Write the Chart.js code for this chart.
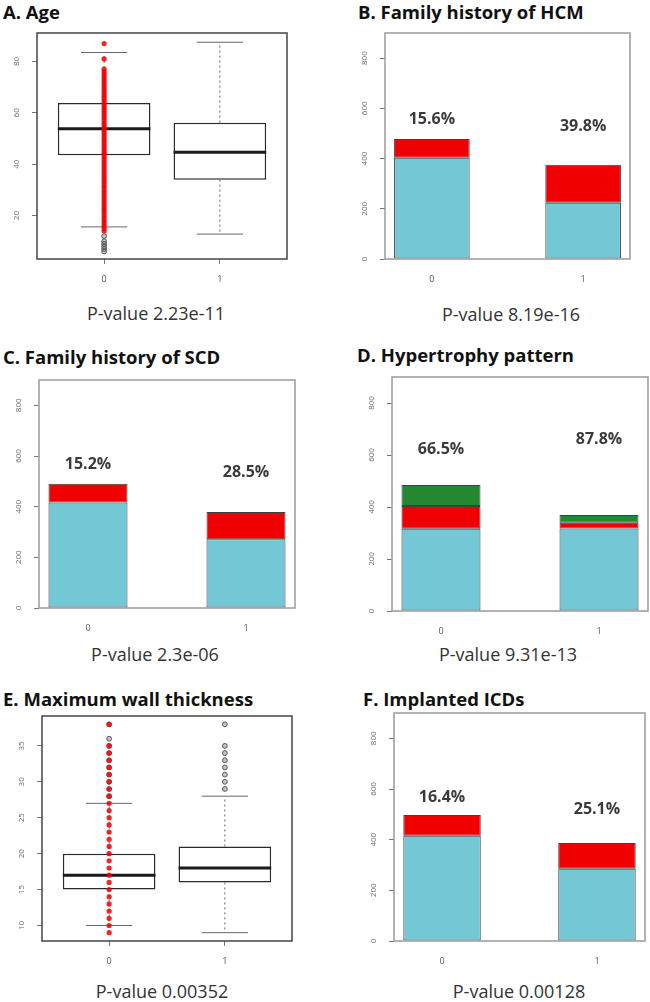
<!DOCTYPE html>
<html>
<head>
<meta charset="utf-8">
<script src="https://cdn.jsdelivr.net/npm/chart.js@4.4.0/dist/chart.umd.min.js"></script>
<style>
    body { margin: 0; background: #fff; width: 650px; height: 1002px; position: relative; overflow: hidden; font-family: "Open Sans", sans-serif; }
    canvas { position: absolute; }
    .title { position: absolute; font-weight: bold; font-size: 18.5px; line-height: 24px; color: #111; white-space: nowrap; }
    .pval { position: absolute; font-size: 18px; line-height: 24px; color: #333; white-space: nowrap; transform: translateX(-50%); }
</style>
</head>
<body>
<div class="title" style="left:3px;top:0px">A. Age</div>
<div class="title" style="left:358px;top:0px">B. Family history of HCM</div>
<div class="title" style="left:3px;top:345px">C. Family history of SCD</div>
<div class="title" style="left:357px;top:343px">D. Hypertrophy pattern</div>
<div class="title" style="left:3px;top:687px">E. Maximum wall thickness</div>
<div class="title" style="left:363px;top:687px">F. Implanted ICDs</div>

<div class="pval" style="left:156px;top:301px">P-value 2.23e-11</div>
<div class="pval" style="left:511px;top:302px">P-value 8.19e-16</div>
<div class="pval" style="left:155px;top:642px">P-value 2.3e-06</div>
<div class="pval" style="left:508px;top:642px">P-value 9.31e-13</div>
<div class="pval" style="left:162px;top:979px">P-value 0.00352</div>
<div class="pval" style="left:519px;top:979px">P-value 0.00128</div>

<canvas id="chartA"></canvas>
<canvas id="chartB"></canvas>
<canvas id="chartC"></canvas>
<canvas id="chartD"></canvas>
<canvas id="chartE"></canvas>
<canvas id="chartF"></canvas>

<script>
// groups on the x axis
const groups = ['0', '1'];
const groupPos = [0, 1];

// A. Age (boxplot)
const ageTicks = [20, 40, 60, 80];
const ageLow = [15.6, 12.8];
const ageQ1 = [43.5, 34];
const ageMedian = [53.8, 44.7];
const ageQ3 = [63.8, 56.2];
const ageHigh = [83.5, 87.5];
const ageRed0 = [87, 81, 77, 76, 75, 74, 73, 72, 71, 70, 69, 68, 67, 66, 65, 64, 63, 62, 61, 60,
    59, 58, 57, 56, 55, 54, 53, 52, 51, 50, 49, 48, 47, 46, 45, 44, 43, 42, 41, 40,
    39, 38, 37, 36, 35, 34, 33, 32, 31, 30, 29, 28, 27, 26, 25, 24, 23, 22, 21, 20,
    19, 18, 17, 16, 15, 14];
const ageOut0 = [12, 10, 9, 8, 7, 6];
const ageOut1 = [];

// bar panels
const countTicks = [0, 200, 400, 600, 800];

const hcmNo = [403, 224];
const hcmYes = [75, 151];
const hcmPct = ['15.6%', '39.8%'];

const scdNo = [416, 271];
const scdYes = [74, 108];
const scdPct = ['15.2%', '28.5%'];

const hypBase = [316, 317];
const hypRed = [88, 22];
const hypGreen = [81, 30];
const hypPct = ['66.5%', '87.8%'];

const icdNo = [415, 285];
const icdYes = [82, 102];
const icdPct = ['16.4%', '25.1%'];

// E. Maximum wall thickness (boxplot)
const mwtTicks = [10, 15, 20, 25, 30, 35];
const mwtLow = [10, 9];
const mwtQ1 = [15, 16];
const mwtMedian = [17, 18];
const mwtQ3 = [20, 21];
const mwtHigh = [27, 28];
const mwtRed0 = [38, 35, 34, 33, 32, 31, 30, 29, 28, 27, 26, 25, 24, 23, 22, 21, 20,
    19, 18, 17, 16, 15, 14, 13, 12, 11, 10, 9];
const mwtOut0 = [38, 36, 35, 34, 33, 32, 31, 30, 29, 28];
const mwtOut1 = [38, 35, 34, 33, 32, 31, 30, 29];

const CYAN = '#74c8d6';
const RED = '#f00000';
const GREEN = '#23882f';

function placeCanvas(id, box) {
    const c = document.getElementById(id);
    c.width = box.r - box.l + 50;
    c.height = box.b - box.t + 45;
    c.style.left = (box.l - 40) + 'px';
    c.style.top = (box.t - 10) + 'px';
    return c;
}

function xScale(min, max, tickColor, stacked) {
    return {
        type: 'linear', min: min, max: max, stacked: stacked, offset: false,
        afterBuildTicks: s => { s.ticks = groupPos.map(v => ({ value: v })); },
        afterFit: s => { s.height = 35; },
        ticks: {
            callback: (v, i) => groups[i],
            font: { size: 9, family: 'Open Sans' }, color: '#555',
            padding: 10, maxRotation: 0, autoSkip: false
        },
        grid: { drawOnChartArea: false, tickLength: 5, tickColor: tickColor, offset: false },
        border: { display: false }
    };
}

function yScale(min, max, ticks, stacked) {
    return {
        type: 'linear', min: min, max: max, stacked: stacked,
        afterBuildTicks: s => { s.ticks = ticks.map(v => ({ value: v })); },
        afterFit: s => { s.width = 40; },
        ticks: { display: false },
        grid: { drawOnChartArea: false, tickLength: 5, tickColor: '#777' },
        border: { display: false }
    };
}

// box around the plot region + rotated y tick labels (R style)
function framePlugin(color) {
    return {
        id: 'frame',
        afterDraw(chart) {
            const ctx = chart.ctx, a = chart.chartArea, y = chart.scales.y;
            ctx.save();
            ctx.strokeStyle = color;
            ctx.lineWidth = 1.5;
            ctx.strokeRect(a.left, a.top, a.right - a.left, a.bottom - a.top);
            ctx.font = '8px "Open Sans"';
            ctx.fillStyle = '#666';
            ctx.textAlign = 'center';
            ctx.textBaseline = 'middle';
            y.ticks.forEach(t => {
                ctx.save();
                ctx.translate(a.left - 20, y.getPixelForValue(t.value));
                ctx.rotate(-Math.PI / 2);
                ctx.fillText(String(t.value), 0, 0);
                ctx.restore();
            });
            ctx.restore();
        }
    };
}

function whiskerPlugin(low, median, high, q1, q3) {
    return {
        id: 'whiskers',
        afterDatasetDraw(chart, args) {
            if (args.meta.type !== 'bar') return;
            const ctx = chart.ctx, y = chart.scales.y;
            args.meta.data.forEach((bar, i) => {
                const half = bar.width / 2;
                ctx.save();
                ctx.strokeStyle = '#666';
                ctx.lineWidth = 1;
                ctx.setLineDash([2, 3]);
                ctx.beginPath();
                ctx.moveTo(bar.x, y.getPixelForValue(q3[i]));
                ctx.lineTo(bar.x, y.getPixelForValue(high[i]));
                ctx.moveTo(bar.x, y.getPixelForValue(q1[i]));
                ctx.lineTo(bar.x, y.getPixelForValue(low[i]));
                ctx.stroke();
                ctx.setLineDash([]);
                ctx.beginPath();
                ctx.moveTo(bar.x - half / 2, y.getPixelForValue(high[i]));
                ctx.lineTo(bar.x + half / 2, y.getPixelForValue(high[i]));
                ctx.moveTo(bar.x - half / 2, y.getPixelForValue(low[i]));
                ctx.lineTo(bar.x + half / 2, y.getPixelForValue(low[i]));
                ctx.stroke();
                ctx.strokeStyle = '#1a1a1a';
                ctx.lineWidth = 3;
                ctx.beginPath();
                ctx.moveTo(bar.x - half, y.getPixelForValue(median[i]));
                ctx.lineTo(bar.x + half, y.getPixelForValue(median[i]));
                ctx.stroke();
                ctx.restore();
            });
        }
    };
}

function pctPlugin(pct, labelAt) {
    return {
        id: 'pct',
        afterDatasetsDraw(chart) {
            const ctx = chart.ctx, x = chart.scales.x, y = chart.scales.y;
            ctx.save();
            ctx.font = 'bold 16px "Open Sans"';
            ctx.fillStyle = '#3a3a3a';
            ctx.textAlign = 'center';
            ctx.textBaseline = 'middle';
            pct.forEach((p, i) => {
                ctx.fillText(p, x.getPixelForValue(groupPos[i]), y.getPixelForValue(labelAt[i]));
            });
            ctx.restore();
        }
    };
}

const baseOptions = {
    animation: false,
    responsive: false,
    layout: { padding: { top: 10, right: 10, left: 0, bottom: 0 } },
    plugins: { legend: { display: false }, tooltip: { enabled: false } }
};

function boxPanel(id, box, yMin, yMax, ticks, st, red0, out0, out1) {
    const canvas = placeCanvas(id, box);
    const outliers = out0.map(v => ({ x: groupPos[0], y: v }))
        .concat(out1.map(v => ({ x: groupPos[1], y: v })));
    new Chart(canvas, {
        type: 'bar',
        data: {
            datasets: [
                {
                    type: 'scatter', order: 1,
                    data: red0.map(v => ({ x: groupPos[0], y: v })),
                    pointRadius: 2.6, pointBackgroundColor: 'rgba(240,0,0,0.85)', pointBorderWidth: 0
                },
                {
                    type: 'scatter', order: 2,
                    data: outliers,
                    pointRadius: 2.4, pointBackgroundColor: 'rgba(90,90,90,0.35)',
                    pointBorderColor: '#555', pointBorderWidth: 1
                },
                {
                    type: 'bar', order: 3,
                    data: groupPos.map((x, i) => ({ x: x, y: [st.q1[i], st.q3[i]] })),
                    backgroundColor: '#fff', borderColor: '#2a2a2a', borderWidth: 1.5,
                    borderSkipped: false, categoryPercentage: 0.8, barPercentage: 1
                }
            ]
        },
        options: Object.assign({}, baseOptions, {
            scales: {
                x: xScale(-0.58, 1.58, '#777', false),
                y: yScale(yMin, yMax, ticks, false)
            }
        }),
        plugins: [whiskerPlugin(st.low, st.median, st.high, st.q1, st.q3), framePlugin('#444')]
    });
}

function barPanel(id, box, layers, pct, labelAt) {
    const canvas = placeCanvas(id, box);
    const datasets = layers.map(l => ({
        data: groupPos.map((x, i) => ({ x: x, y: l.values[i] })),
        backgroundColor: l.color,
        borderColor: '#404040',
        borderWidth: 1,
        borderSkipped: false,
        categoryPercentage: 0.5,
        barPercentage: 1
    }));
    new Chart(canvas, {
        type: 'bar',
        data: { datasets: datasets },
        options: Object.assign({}, baseOptions, {
            scales: {
                x: xScale(-0.31, 1.31, 'rgba(0,0,0,0)', true),
                y: yScale(0, 900, countTicks, true)
            }
        }),
        plugins: [pctPlugin(pct, labelAt), framePlugin('#9a9a9a')]
    });
}

boxPanel('chartA', { l: 37, t: 33, r: 287, b: 259 }, 3.1, 91.1, ageTicks,
    { low: ageLow, q1: ageQ1, median: ageMedian, q3: ageQ3, high: ageHigh },
    ageRed0, ageOut0, ageOut1);

barPanel('chartB', { l: 385, t: 33, r: 630, b: 259 },
    [{ values: hcmNo, color: CYAN }, { values: hcmYes, color: RED }],
    hcmPct, [555, 527]);

barPanel('chartC', { l: 39, t: 380, r: 295, b: 608 },
    [{ values: scdNo, color: CYAN }, { values: scdYes, color: RED }],
    scdPct, [568, 536]);

barPanel('chartD', { l: 392, t: 377, r: 648, b: 611 },
    [{ values: hypBase, color: CYAN }, { values: hypRed, color: RED }, { values: hypGreen, color: GREEN }],
    hypPct, [620, 658]);

boxPanel('chartE', { l: 42, t: 716, r: 292, b: 941 }, 7.84, 39.16, mwtTicks,
    { low: mwtLow, q1: mwtQ1, median: mwtMedian, q3: mwtQ3, high: mwtHigh },
    mwtRed0, mwtOut0, mwtOut1);

barPanel('chartF', { l: 394, t: 713, r: 645, b: 941 },
    [{ values: icdNo, color: CYAN }, { values: icdYes, color: RED }],
    icdPct, [568, 521]);
</script>
</body>
</html>
